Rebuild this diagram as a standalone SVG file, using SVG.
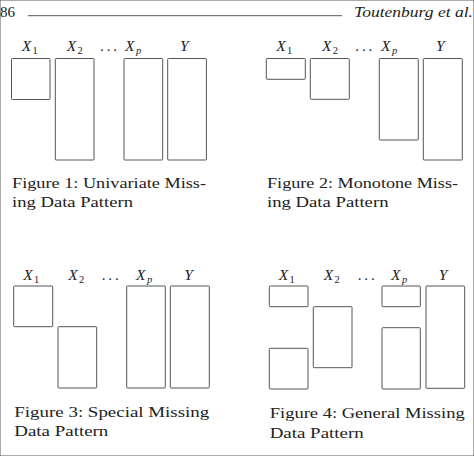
<svg xmlns="http://www.w3.org/2000/svg" width="474" height="456" viewBox="0 0 474 456">
<style>
text{font-family:'Liberation Serif','Times New Roman','DejaVu Serif',serif;fill:#222}
.hd{font-size:15px}
.it{font-style:italic;font-size:15.5px}
.sub{font-size:10.5px}
.dots{font-size:15px}
.cap{font-size:14.8px}
rect{fill:none;stroke:#555;stroke-width:1;}
</style>
<rect width="474" height="456" fill="#fff" stroke="none"/>
<g font-family="Liberation Serif, Times New Roman, serif">
<g id="header">
<text class="hd" x="0" y="16.5">86</text>
<line x1="28" y1="15.7" x2="342" y2="15.7" stroke="#444" stroke-width="0.9"/>
<text class="it" x="354" y="17" textLength="119" lengthAdjust="spacingAndGlyphs">Toutenburg et al.</text>
</g>
<g id="figure1">
<text class="it" x="21.7" y="50.7">X</text><text class="sub" x="32.5" y="53.5">1</text>
<text class="it" x="66.7" y="50.7">X</text><text class="sub" x="77.5" y="53.5">2</text>
<text class="dots" x="100" y="50.7" textLength="17">. . .</text>
<text class="it" x="125" y="50.7">X</text><text class="it sub" x="136" y="53.5">p</text>
<text class="it" x="180" y="50.7">Y</text>
<rect x="11.5" y="58.5" width="38.5" height="41" rx="0.8"/>
<rect x="55.3" y="58.5" width="38.7" height="101.5" rx="0.8"/>
<rect x="124" y="58.5" width="38.7" height="101.5" rx="0.8"/>
<rect x="167.7" y="58.5" width="38.7" height="101.5" rx="0.8"/>
<text class="cap" x="12" y="187.5" textLength="194" lengthAdjust="spacingAndGlyphs">Figure 1:  Univariate Miss-</text>
<text class="cap" x="12" y="206.7" textLength="121" lengthAdjust="spacingAndGlyphs">ing Data Pattern</text>
</g>
<g id="figure2">
<text class="it" x="276.3" y="50.7">X</text><text class="sub" x="287.1" y="53.5">1</text>
<text class="it" x="322" y="50.7">X</text><text class="sub" x="332.8" y="53.5">2</text>
<text class="dots" x="355.3" y="50.7" textLength="17">. . .</text>
<text class="it" x="381" y="50.7">X</text><text class="it sub" x="392" y="53.5">p</text>
<text class="it" x="436" y="50.7">Y</text>
<rect x="266.3" y="58.5" width="39" height="20.8" rx="0.8"/>
<rect x="310.3" y="58.5" width="39" height="40.8" rx="0.8"/>
<rect x="379.3" y="58.5" width="39" height="81.5" rx="0.8"/>
<rect x="423.3" y="58.5" width="39" height="101.5" rx="0.8"/>
<text class="cap" x="267" y="187.7" textLength="191" lengthAdjust="spacingAndGlyphs">Figure 2:  Monotone Miss-</text>
<text class="cap" x="267" y="206.9" textLength="121.5" lengthAdjust="spacingAndGlyphs">ing Data Pattern</text>
</g>
<g id="figure3">
<text class="it" x="23.3" y="280">X</text><text class="sub" x="34.1" y="282.8">1</text>
<text class="it" x="68.3" y="280">X</text><text class="sub" x="79.1" y="282.8">2</text>
<text class="dots" x="101.7" y="280" textLength="17">. . .</text>
<text class="it" x="136" y="280">X</text><text class="it sub" x="147" y="282.8">p</text>
<text class="it" x="184.3" y="280">Y</text>
<rect x="13.7" y="286" width="39" height="40.7" rx="0.8"/>
<rect x="58" y="326.7" width="38.7" height="61.3" rx="0.8"/>
<rect x="126.7" y="286" width="38.6" height="102" rx="0.8"/>
<rect x="170.3" y="286" width="39" height="102" rx="0.8"/>
<text class="cap" x="14.3" y="416.5" textLength="195" lengthAdjust="spacingAndGlyphs">Figure 3:  Special  Missing</text>
<text class="cap" x="14.3" y="436" textLength="94" lengthAdjust="spacingAndGlyphs">Data Pattern</text>
</g>
<g id="figure4">
<text class="it" x="278.7" y="280">X</text><text class="sub" x="289.5" y="282.8">1</text>
<text class="it" x="323.7" y="280">X</text><text class="sub" x="334.5" y="282.8">2</text>
<text class="dots" x="357.7" y="280" textLength="17">. . .</text>
<text class="it" x="391" y="280">X</text><text class="it sub" x="402" y="282.8">p</text>
<text class="it" x="438.7" y="280">Y</text>
<rect x="269.3" y="286" width="38.7" height="20.7" rx="0.8"/>
<rect x="269.3" y="348.3" width="38.7" height="40.7" rx="0.8"/>
<rect x="313.3" y="306.7" width="38.7" height="61" rx="0.8"/>
<rect x="382" y="286" width="38.3" height="20.7" rx="0.8"/>
<rect x="382" y="327.7" width="38.3" height="61.3" rx="0.8"/>
<rect x="426" y="286" width="38.7" height="102.3" rx="0.8"/>
<text class="cap" x="269.7" y="418.2" textLength="195" lengthAdjust="spacingAndGlyphs">Figure 4:  General  Missing</text>
<text class="cap" x="269.7" y="437.6" textLength="94" lengthAdjust="spacingAndGlyphs">Data Pattern</text>
</g>
<g id="connectors"/>
</g>
</svg>
